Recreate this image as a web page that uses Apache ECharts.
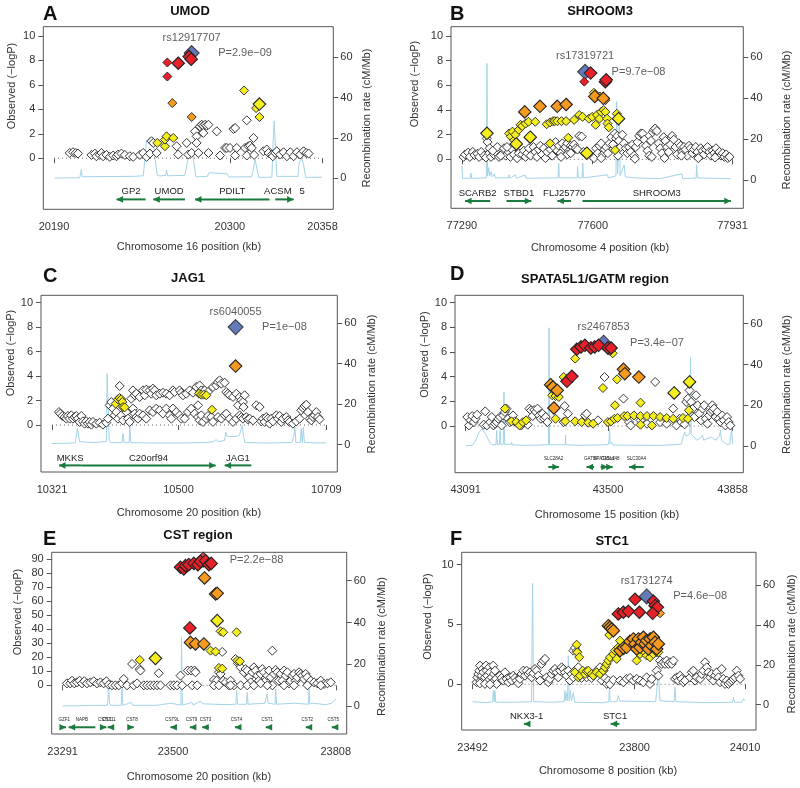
<!DOCTYPE html>
<html><head><meta charset="utf-8">
<script src="https://cdn.jsdelivr.net/npm/echarts@6/dist/echarts.min.js"></script>
<style>html,body{margin:0;padding:0;background:#fff}#c{width:800px;height:788px}</style>
</head><body><div id="c"></div>
<script>
// ---------------- tick labels ----------------
const P_TICKS = [0, 2, 4, 6, 8, 10];
const E_PTICKS = [0, 10, 20, 30, 40, 50, 60, 70, 80, 90];
const F_PTICKS = [0, 5, 10];
const R_TICKS = [0, 20, 40, 60];
const A_xticks = [20190, 20300, 20358];
const B_xticks = [77290, 77600, 77931];
const C_xticks = [10321, 10500, 10709];
const D_xticks = [43091, 43500, 43858];
const E_xticks = [23291, 23500, 23808];
const F_xticks = [23492, 23800, 24010];

// ---------------- Panel A: UMOD ----------------
const A_white = [[20199.8,0.43],[20201.9,0.49],[20203.6,0.43],[20205.0,0.38],[20213.4,0.27],[20215.5,0.38],[20216.5,0.16],[20218.6,0.27],[20219.7,0.43],[20220.7,0.16],[20222.8,0.27],[20224.9,0.11],[20227.0,0.22],[20229.1,0.16],[20230.1,0.30],[20232.2,0.38],[20234.3,0.27],[20237.4,0.16],[20239.5,0.11],[20243.7,0.27],[20245.8,0.43],[20247.9,0.11],[20250.0,0.38],[20251.0,1.39],[20252.1,1.25],[20254.2,0.43],[20266.7,0.98],[20267.7,0.30],[20273.0,1.25],[20274.0,0.30],[20276.1,0.43],[20278.2,2.20],[20279.2,1.79],[20279.2,1.25],[20280.3,0.43],[20281.3,2.61],[20282.4,2.74],[20283.4,2.66],[20283.4,2.07],[20284.5,2.74],[20285.5,2.66],[20286.6,2.74],[20286.6,0.43],[20291.8,2.20],[20293.9,0.22],[20297.0,0.84],[20298.1,0.84],[20300.1,0.84],[20302.2,2.39],[20303.3,2.47],[20303.3,0.22],[20304.3,0.84],[20309.5,0.84],[20310.6,0.22],[20310.6,3.10],[20311.6,0.98],[20312.7,1.03],[20313.7,0.84],[20314.8,1.66],[20315.2,0.27],[20321.0,0.57],[20323.1,0.71],[20324.2,0.43],[20326.3,0.30],[20326.9,0.16],[20328.4,0.43],[20329.4,0.57],[20331.5,0.30],[20333.6,0.49],[20335.7,0.16],[20337.8,0.49],[20339.9,0.16],[20342.0,0.49],[20344.0,0.30],[20346.1,0.57],[20347.8,0.43],[20349.3,0.38]];
const A_yellow = [[20254.6,1.25],[20259.4,0.98],[20259.4,1.52],[20260.4,1.79],[20264.6,1.66],[20308.9,5.54],[20316.4,4.10],[20318.5,3.37]];
const A_yellowBig = [[20318.5,4.43]];
const A_orange = [[20264.0,4.51],[20276.1,3.37]];
const A_orangeBig = [];
const A_red = [[20260.9,7.83],[20260.9,6.68]];
const A_redBig = [[20267.7,7.77],[20274.6,8.32],[20275.8,8.10]];
const A_lead = [[20276.1,8.6]];
const A_rs = 'rs12917707';
const A_p = 'P=2.9e\u221209';
const A_recomb = [[20190.4,0.2],[20206.1,0.3],[20206.7,0.5],[20207.1,4.4],[20207.6,0.8],[20218.6,0.9],[20239.5,1.0],[20245.8,1.3],[20246.9,10],[20247.9,19],[20249.6,20],[20251.0,19.5],[20252.1,17.5],[20253.3,9],[20254.6,1.5],[20256.3,1.2],[20259.8,1.5],[20260.4,4.0],[20261.0,1.3],[20271.9,1.5],[20273.4,8],[20274.6,11.5],[20276.7,11.8],[20277.8,6],[20278.8,0.8],[20285.9,1.0],[20287.0,2.8],[20298.1,2.3],[20299.3,0.7],[20313.7,0.8],[20314.8,5],[20315.8,9.3],[20316.9,5],[20318.1,0.5],[20326.3,0.6],[20326.9,15],[20327.7,28.5],[20328.6,15],[20329.4,1],[20342.6,1],[20343.4,8],[20345.1,9.8],[20346.3,6],[20347.4,0.5],[20357.6,0.6]];
const A_genes = [['GP2',20229.1,20247.3,-1],['UMOD',20252.1,20271.9,-1],['PDILT',20278.2,20324.8,-1],['ACSM   5',20328.4,20339.9,1]];

// ---------------- Panel B: SHROOM3 ----------------
const B_white = [[77294,0.2],[77298,0.4],[77305,0.55],[77309,0.2],[77316,0.6],[77320,0.35],[77327,0.45],[77331,0.2],[77336,0.6],[77343,0.3],[77347,0.15],[77355,0.5],[77359,0.2],[77366,0.4],[77370,0.6],[77374,1.0],[77378,0.2],[77386,0.45],[77390,0.9],[77394,0.3],[77401,0.6],[77405,0.2],[77409,0.8],[77413,0.4],[77417,1.2],[77421,0.1],[77425,0.5],[77349,1.7],[77351,1.4],[77356,0.9],[77363,0.7],[77382,0.3],[77397,1.0],
[77433,0.4],[77437,0.7],[77441,0.2],[77445,0.5],[77449,0.9],[77453,0.3],[77460,1.0],[77464,0.6],[77468,0.2],[77472,0.8],[77476,1.1],[77480,0.4],[77484,0.9],[77488,0.1],[77492,0.6],[77496,1.2],[77500,0.8],[77504,0.3],[77508,1.0],[77512,1.4],[77516,0.7],[77520,1.1],[77524,0.5],[77528,1.3],[77532,0.9],[77536,1.0],[77540,1.3],[77544,0.7],[77548,1.1],[77552,1.0],[77556,1.2],[77560,0.9],[77564,0.8],[77568,1.9],[77574,1.85],[77578,0.6],[77540,0.4],[77525,0.2],[77548,0.5],
[77603,0.1],[77608,0.9],[77612,0.5],[77616,1.1],[77620,1.3],[77624,0.4],[77628,0.8],[77632,1.0],[77636,0.5],[77640,1.3],[77644,1.8],[77648,1.2],[77652,2.1],[77655,1.7],[77658,1.9],[77662,1.5],[77666,1.0],[77670,2.0],[77674,1.3],[77678,0.9],[77682,0.5],[77686,1.0],[77690,0.6],[77694,1.2],[77698,0.3],[77702,1.0],[77706,1.4],[77710,1.9],[77714,2.1],[77718,2.1],[77722,1.6],[77726,1.1],[77730,0.7],[77734,0.3],[77738,1.5],[77742,2.2],[77745,2.4],[77748,2.5],[77752,2.3],[77756,1.3],[77760,0.9],[77764,0.5],[77768,1.8],[77772,1.5],[77776,1.0],[77780,0.6],[77784,1.2],[77788,1.9],[77792,1.6],[77796,1.0],[77800,0.4],[77804,1.3],[77808,1.1],[77812,0.6],[77816,1.0],[77820,0.8],[77824,0.3],[77828,1.1],[77832,0.9],[77836,0.5],[77840,0.8],[77844,1.0],[77848,0.6],[77852,0.2],[77856,0.9],[77860,0.7],[77864,0.4],[77868,0.8],[77872,1.0],[77876,0.6],[77880,0.3],[77884,0.7],[77888,0.5],[77892,0.9],[77896,0.4],[77900,0.6],[77904,0.3],[77908,0.5],[77912,0.2],[77916,0.4],[77920,0.1],[77924,0.2],[77620,0.1],[77660,0.3],[77700,0.05],[77740,0.2],[77770,0.1],[77810,0.3],[77850,0.1],[77890,0.15]];
const B_yellow = [[77402,2.1],[77406,1.85],[77410,2.25],[77414,1.55],[77417,2.0],[77425,2.4],[77429,2.8],[77433,2.7],[77441,2.9],[77448,3.05],[77464,3.05],[77491,2.85],[77499,3.0],[77506,3.1],[77510,3.1],[77516,3.1],[77526,3.1],[77537,3.1],[77499,1.3],[77542,1.75],[77556,3.2],[77568,3.6],[77576,3.45],[77591,3.3],[77599,3.45],[77603,5.4],[77607,2.8],[77610,3.6],[77616,3.3],[77620,3.85],[77626,4.0],[77630,3.85],[77634,3.3],[77635,2.9],[77638,2.6],[77657,3.7],[77653,0.75]];
const B_yellowBig = [[77349.5,2.11],[77419,1.25],[77452,1.8],[77586,0.5],[77661,3.3]];
const B_orange = [[77617,5.1],[77630,4.8]];
const B_orangeBig = [[77439,3.85],[77475,4.3],[77516,4.3],[77537,4.45],[77605,5.1],[77625,4.95]];
const B_red = [[77580,6.3]];
const B_redBig = [[77595,7.0],[77630,6.3],[77632,6.45]];
const B_lead = [[77582,7.1]];
const B_rs = 'rs17319721';
const B_p = 'P=9.7e\u221208';
const B_recomb = [[77290,7],[77292,0.8],[77310,0.8],[77311.6,3.3],[77313,0.8],[77348,1],[77349.5,57],[77351,2],[77354,6],[77356,2],[77359.5,4],[77362,1.5],[77367,3],[77369,1],[77400,1],[77402,2.5],[77404,0.8],[77417,2.5],[77419,0.8],[77440,2.4],[77442,0.8],[77518,1],[77519.4,8.2],[77521,1],[77563,1],[77564.2,6.5],[77566,1],[77575,1],[77576.5,8.2],[77578,1],[77635,2.5],[77637,1],[77655,2],[77656.8,38.3],[77659,3],[77663,28],[77665,2],[77674.6,7.3],[77677,1.5],[77700,1],[77760,0.6],[77811,3],[77813,0.6],[77845,1],[77846.1,7.3],[77848,1],[77927,0.6]];
const B_genes = [['SCARB2',77297.7,77357.2,-1],['STBD1',77395.8,77454.5,1],['FLJ25770',77516.3,77548.7,-1],['SHROOM3',77575.8,77927.1,1]];

// ---------------- Panel C: JAG1 ----------------
const C_white = [[10330.9,1.06],[10332.8,0.93],[10335.6,0.74],[10338.9,0.65],[10341.3,0.52],[10343.6,0.74],[10346.0,0.52],[10348.3,0.79],[10350.7,0.52],[10353.1,0.65],[10355.4,0.74],[10357.8,0.52],[10360.1,0.25],[10362.5,0.74],[10364.8,0.30],[10367.2,0.11],[10369.6,0.30],[10371.9,0.11],[10374.3,0.25],[10376.6,0.03],[10379.0,0.25],[10383.7,0.11],[10388.4,0.19],[10393.1,0.03],[10397.8,0.19],[10400.2,0.52],[10402.6,1.61],[10404.9,1.88],[10407.3,1.34],[10409.6,0.79],[10412.0,1.06],[10414.3,0.52],[10416.7,3.19],[10417.6,2.15],[10419.0,0.79],[10421.4,0.38],[10423.8,1.34],[10426.1,1.06],[10428.5,0.52],[10430.8,0.25],
[10433.2,2.15],[10435.6,2.83],[10437.9,2.43],[10440.3,2.56],[10445.0,2.29],[10449.7,2.83],[10452.1,2.43],[10454.4,2.89],[10459.1,2.83],[10461.5,2.56],[10463.8,2.97],[10466.2,2.83],[10468.5,2.43],[10473.3,2.56],[10478.0,2.64],[10482.7,2.56],[10487.4,2.43],[10492.1,2.83],[10494.5,2.70],[10501.5,2.83],[10503.9,2.64],[10506.3,2.43],[10511.0,2.56],[10515.7,2.83],[10520.4,2.64],[10525.1,3.11],[10529.8,3.24],[10532.2,2.83],[10527.5,1.61],[10534.5,2.64],[10536.9,2.83],[10541.6,2.70],[10548.7,3.11],[10553.4,3.24],[10555.8,3.51],[10558.1,3.65],[10560.5,3.38],[10565.2,3.46],[10567.5,2.70],[10569.9,2.56],[10572.3,2.43],[10577.0,2.29],[10581.7,2.56],[10584.1,1.61],[10586.4,2.29],[10588.8,2.02],[10591.1,1.88],[10593.5,2.43],[10592.0,1.47],
[10435.6,1.34],[10437.9,0.93],[10440.3,0.65],[10442.6,0.52],[10445.0,0.93],[10449.7,0.79],[10454.4,0.52],[10459.1,1.20],[10463.8,1.06],[10468.5,1.34],[10473.3,1.20],[10478.0,0.93],[10482.7,1.34],[10487.4,0.79],[10489.8,0.52],[10492.1,1.34],[10496.8,1.06],[10501.5,0.79],[10503.9,0.52],[10508.6,0.52],[10513.3,1.06],[10518.0,1.34],[10522.8,0.93],[10527.5,0.65],[10529.8,0.38],[10532.2,0.79],[10534.5,0.25],[10539.3,0.52],[10541.6,0.74],[10546.3,0.65],[10548.7,0.25],[10555.8,0.65],[10560.5,0.52],[10565.2,0.79],[10567.5,0.93],[10572.3,0.52],[10577.0,0.25],[10581.7,0.52],[10586.4,0.79],[10588.8,0.65],[10591.1,0.52],[10595.8,0.65],[10598.2,0.46],[10600.5,0.52],[10605.3,0.38],
[10610.0,1.61],[10614.7,1.47],[10617.0,0.30],[10619.4,0.52],[10621.8,0.25],[10624.1,0.65],[10626.5,0.52],[10628.8,0.11],[10631.2,0.52],[10633.5,0.30],[10638.3,0.79],[10640.6,0.52],[10643.0,0.74],[10645.3,0.25],[10647.7,0.52],[10652.4,0.65],[10654.8,0.38],[10657.1,0.25],[10661.8,0.11],[10666.5,0.30],[10671.3,0.52],[10673.6,1.20],[10676.0,1.39],[10678.3,1.55],[10680.7,1.66],[10683.0,1.06],[10685.4,0.52],[10687.8,0.38],[10690.1,0.65],[10692.5,0.79],[10694.8,1.06],[10697.2,0.65],[10699.5,0.46]];
const C_yellow = [[10411.0,1.74],[10414.3,2.10],[10416.7,2.20],[10419.0,2.10],[10420.5,1.88],[10421.4,1.47],[10423.8,1.44],[10528.9,2.56],[10532.2,2.48],[10535.5,2.48],[10539.3,2.43],[10547.3,1.25]];
const C_yellowBig = [];
const C_orange = [];
const C_orangeBig = [[10580.7,4.82]];
const C_red = [];
const C_redBig = [];
const C_lead = [[10580.7,8.0]];
const C_rs = 'rs6040055';
const C_p = 'P=1e\u221208';
const C_recomb = [[10321,0.5],[10330,0.6],[10350,0.8],[10354,1],[10357,7.9],[10360,1.5],[10380,1],[10398,1.5],[10399,35],[10401,35],[10402,2],[10404,1],[10420,1],[10421.5,5.5],[10423,1],[10430,1],[10431,9.5],[10432.5,1],[10460,0.8],[10500,0.8],[10540,1],[10550,1.5],[10553,2.5],[10556,1.5],[10565,2],[10567,6],[10569,4],[10580,4],[10586,4.5],[10590,9.5],[10592,4],[10594,1],[10620,0.8],[10660,1],[10663,4],[10664.5,8.7],[10666,1],[10672,1],[10673.5,8],[10675,1],[10676.5,8.5],[10678,1],[10709,0.8]];
const C_genes = [['MKKS',10330.9,10362.5,-1],['C20orf94',10362.5,10552.5,1],['JAG1',10565.2,10602.9,-1]];

// ---------------- Panel D: SPATA5L1/GATM ----------------
const D_white = [[43095.7,0.73],[43100.4,0.05],[43105.1,0.46],[43109.8,0.81],[43114.5,0.32],[43119.2,0.59],[43123.9,0.92],[43142.6,0.11],[43147.3,1.19],[43152.0,0.05],[43161.4,0.32],[43166.1,0.73],[43170.8,0.05],[43175.5,0.19],[43180.2,0.32],[43184.9,0.59],[43189.6,0.73],[43194.3,0.05],[43199.0,0.86],[43203.7,1.14],[43208.4,1.41],[43213.0,0.59],[43217.7,0.32],[43227.1,0.86],[43231.8,0.38],[43241.2,0.19],[43250.6,0.05],[43260.0,0.32],[43269.4,0.11],[43274.1,1.41],[43278.8,1.27],[43283.5,0.81],[43288.0,1.30],[43292.8,1.14],[43297.5,1.41],[43302.2,0.86],[43306.9,0.59],[43311.6,1.00],[43316.3,0.59],[43321.0,0.73],[43325.7,0.32],[43372.6,0.32],[43375.5,1.62],[43384.8,1.00],[43433.7,0.86],[43438.4,1.00],[43471.2,0.46],[43490.0,3.97],[43544.4,2.22],[43560.4,0.32],[43565.1,0.05],[43593.3,0.46],[43612.0,0.19],[43635.5,3.57],[43649.6,0.32],[43668.4,0.19],[43687.1,1.41],[43696.5,0.05],[43706.0,0.59],[43710.6,0.32],[43720.0,0.14],[43724.7,1.95],[43729.4,2.22],[43734.1,2.89],[43738.8,1.95],[43743.5,1.41],[43748.2,0.73],[43752.9,2.49],[43757.6,1.68],[43762.2,1.00],[43766.9,0.46],[43771.6,1.41],[43776.3,1.68],[43781.0,0.59],[43785.7,0.19],[43790.4,0.86],[43795.1,1.14],[43799.8,1.68],[43799.8,1.27],[43804.5,1.41],[43809.2,0.73],[43813.9,1.14],[43818.6,0.59],[43823.3,0.32],[43828.0,0.86],[43832.7,0.46],[43837.3,0.05],[43842.0,0.73],[43846.7,0.32],[43851.4,0.05]];
const D_yellow = [[43203.7,1.41],[43222.4,0.38],[43236.5,0.32],[43245.9,0.05],[43255.3,0.32],[43264.7,0.46],[43349.2,0.59],[43377.3,0.38],[43405.5,0.38],[43424.3,0.32],[43443.1,0.27],[43457.1,0.19],[43499.4,0.32],[43508.8,0.38],[43518.2,0.59],[43527.5,0.65],[43546.3,0.81],[43555.7,0.81],[43574.5,0.86],[43593.3,0.81],[43612.0,0.81],[43630.8,0.81],[43649.6,0.73],[43668.4,0.65],[43687.1,0.59],[43715.3,0.65],[43593.3,0.11],[43626.1,0.05],[43339.8,2.49],[43349.2,2.43],[43358.6,2.35],[43372.6,3.97],[43405.5,5.46],[43485.3,3.08],[43525.7,3.78],[43520.0,1.68],[43593.3,1.89],[43732.2,1.27],[43729.4,0.59],[43513.5,5.89]];
const D_yellowBig = [[43690.0,2.68],[43734.1,3.57]];
const D_orange = [[43504.1,6.1]];
const D_orangeBig = [[43335.1,3.35],[43341.7,3.16],[43353.9,2.89],[43344.5,1.46],[43544.4,4.59],[43548.2,4.24],[43588.6,3.97]];
const D_red = [];
const D_redBig = [[43382.0,3.62],[43396.1,4.03],[43410.2,6.22],[43422.4,6.41],[43433.7,6.54],[43450.6,6.32],[43461.8,6.41],[43473.1,6.54],[43499.4,6.32],[43508.8,6.32]];
const D_lead = [[43487.2,6.75]];
const D_rs = 'rs2467853';
const D_p = 'P=3.4e\u221207';
const D_recomb = [[43091,0.3],[43110,0.5],[43120,3],[43130,7],[43138,8.6],[43148,6],[43160,2],[43166,0.8],[43178,0.8],[43180,7.8],[43182,0.8],[43188,0.8],[43190,7.8],[43192,1],[43199,1],[43201,26.6],[43203,1],[43222,1],[43223,2],[43225,0.8],[43250,0.5],[43300,0.6],[43329,0.8],[43330.5,58],[43332,0.8],[43377,0.8],[43378,5.4],[43379,0.8],[43420,0.5],[43500,0.8],[43503,3],[43504.5,8.6],[43506,1],[43510,2],[43515,0.6],[43650,0.5],[43710,1],[43715,4],[43720,7],[43725,5],[43735,6],[43737,43.7],[43739,6],[43745,5],[43755,3],[43765,4],[43771,5.4],[43775,3],[43795,4.5],[43810,3],[43820,5],[43823,7.8],[43826,3],[43840,1],[43850,1],[43855,8.6],[43858,1]];
const D_genes = [['SLC28A2',43328.5,43358.6,1],['GATM',43438.4,43459.9,-1],['SPATA5L1',43478.7,43499.4,1],['C15orf48',43499.4,43513.5,1],['SLC30A4',43560.4,43602.6,-1]];

// ---------------- Panel E: CST region ----------------
const E_white = [[23299.2,1.4],[23305.5,1.4],[23308.7,3.3],[23313.1,1.4],[23318.2,2.1],[23323.2,3.3],[23327.7,1.4],[23332.1,2.9],[23337.1,1.4],[23343.5,2.1],[23349.8,2.9],[23356.1,1.4],[23362.4,2.1],[23368.7,1.4],[23373.8,2.9],[23378.2,0.5],[23384.5,0],[23390.9,0],[23397.2,0],[23403.5,1.4],[23406.7,4.5],[23413.0,0],[23422.5,15.2],[23425.6,0],[23432.0,1.4],[23437.0,11.6],[23438.3,10.5],[23444.6,0],[23450.9,0],[23457.2,0],[23463.5,0],[23469.9,0],[23473.0,8.6],[23476.2,0],[23495.1,0],[23501.5,0],[23507.8,0],[23514.1,6.9],[23517.3,0],[23528.0,10.5],[23534.3,10.5],[23536.2,0],[23540.6,10.5],[23542.5,9.3],[23545.7,0],
[23577.3,3.8],[23582.4,3.3],[23586.8,9.3],[23590.0,8.1],[23593.1,23.8],[23595.0,3.3],[23599.4,2.1],[23605.7,0],[23608.9,3.3],[23615.2,0],[23618.4,18.8],[23622.8,15.7],[23627.9,12.8],[23634.2,9.3],[23637.3,11.6],[23640.5,10.5],[23643.7,5.7],[23646.8,2.1],[23650.0,9.3],[23653.1,12.8],[23656.3,10.5],[23659.5,6.9],[23662.6,3.3],[23665.8,8.1],[23668.9,11.6],[23672.1,9.3],[23675.3,3.3],[23678.4,6.9],[23681.6,10.5],[23684.7,5.7],[23687.9,0],[23691.1,8.1],[23694.2,10.9],[23697.4,9.3],[23700.5,3.3],[23703.7,8.1],[23706.9,3.3],[23710.0,10.5],[23713.2,6.9],[23716.3,9.3],[23719.5,1.4],[23722.7,3.3],[23725.8,6.9],[23729.0,8.1],[23732.1,3.3],[23735.3,5.7],[23738.5,9.3],[23741.6,8.1],[23744.8,6.9],[23747.9,4.5],[23751.1,8.1],[23754.3,5.7],[23760.6,3.3],[23766.9,2.1],[23773.2,1.4],[23779.5,3.3],[23785.9,1.0],[23792.2,1.4],[23798.5,2.1],[23687.9,24.7],[23608.9,0],[23627.9,0],[23640.5,0],[23653.1,0],[23665.8,1.4],[23678.4,0],[23710.0,0],[23729.0,0],[23754.3,0],[23779.5,0],[23577.3,0],[23586.8,0]];
const E_yellow = [[23437.0,18.1],[23571.0,24.7],[23580.5,24.0],[23586.8,12.4],[23593.1,11.9],[23590.0,38.5],[23595.0,37.8],[23620.3,37.8],[23621.5,17.6],[23626.6,17.1]];
const E_yellowBig = [[23466.7,19.2],[23583.6,46.1]];
const E_orange = [];
const E_orangeBig = [[23533.0,30.6],[23542.5,29.5],[23558.3,29.5],[23559.6,76.5],[23580.5,65.1],[23583.6,65.6]];
const E_red = [];
const E_redBig = [[23531.8,40.9],[23514.1,84.1],[23520.4,82.9],[23523.6,85.3],[23529.9,86.0],[23539.4,86.9],[23547.0,86.0],[23552.0,88.4],[23561.5,88.8],[23567.8,86.0],[23572.2,86.9]];
const E_lead = [[23557.0,89.5]];
const E_rs = '';
const E_p = 'P=2.2e\u221288';
const E_recomb = [[23291,0.2],[23330,0.3],[23348,0.5],[23350,1.1],[23352,0.4],[23376,0.5],[23378,9],[23380,1.5],[23382,0.5],[23402,0.5],[23403.5,8.7],[23405,0.5],[23421,1.9],[23424,0.5],[23470,0.5],[23495,1.5],[23497,0.6],[23515,0.6],[23516,33],[23517.5,0.6],[23536,1.8],[23538,0.6],[23552,2.5],[23556,1.2],[23600,0.8],[23619,1],[23620.3,7.5],[23622,1],[23639,1],[23640.5,6.7],[23642,1],[23674,1.5],[23676,4],[23678,6],[23680,1.5],[23693,1],[23694.2,8.3],[23696,1],[23729,1.5],[23731,0.8],[23756,1],[23757.4,8.3],[23759,1],[23763,1.5],[23790,0.8],[23800,1.5],[23808,3.5]];
const E_genes = [['GZF1',23291.0,23297.3,1],['NAPB',23302.4,23352.9,-1],['CSTL1',23368.7,23373.8,1],['CST11',23376.3,23381.4,-1],['CST8',23419.3,23425.6,1],['CST9L',23495.1,23501.5,-1],['CST9',23531.8,23538.1,-1],['CST3',23555.2,23567.8,-1],['CST4',23617.1,23622.8,-1],['CST1',23675.3,23681.6,-1],['CST2',23751.1,23757.4,-1],['CST5',23800.5,23806.0,-1]];

// ---------------- Panel F: STC1 ----------------
const F_white = [[23499.6,0.17],[23500.9,0.58],[23502.8,0.86],[23504.7,1.14],[23506.0,1.56],[23507.2,0.31],[23509.1,0.72],[23511.0,1.28],[23512.3,1.0],[23513.6,0.31],[23515.5,0.58],[23517.4,1.56],[23518.6,1.14],[23519.9,0.72],[23521.8,0.31],[23523.7,1.42],[23525.0,1.0],[23528.1,0.58],[23530.0,0.17],[23531.3,1.56],[23532.6,0.86],[23534.5,1.14],[23536.4,0.45],[23537.6,0.03],[23506.0,0.08],[23515.5,0.03],[23525.0,0],
[23544.0,0.72],[23547.2,0.53],[23550.3,0.31],[23553.5,1.0],[23556.7,0.45],[23559.8,0.17],[23563.0,0.58],[23566.2,0.31],[23569.3,0.72],[23572.5,0.53],[23575.7,0.31],[23578.9,0.08],[23582.0,0.45],[23585.2,0.86],[23588.4,1.14],[23591.5,0.72],[23594.7,1.14],[23597.9,0.86],[23601.0,1.0],[23604.2,0.58],[23607.4,0.92],[23610.6,1.28],[23613.7,1.14],[23616.9,0.72],[23620.1,0.31],[23623.2,1.7],[23626.4,1.98],[23629.6,2.12],[23632.7,0.58],[23635.9,0.17],[23639.1,0.45],[23642.3,0.86],[23645.4,1.14],[23648.6,1.28],[23651.8,1.0],[23654.9,0.58],[23658.1,1.14],[23661.3,1.42],[23664.4,1.28],[23667.6,1.0],[23670.8,0.72],[23674.0,1.14],[23677.1,0.31],[23680.3,0.86],[23683.5,0.58],[23686.6,1.14],[23683.5,2.81],[23686.6,3.04],[23689.8,2.76],
[23693.0,1.42],[23699.3,0.53],[23708.8,0.58],[23718.3,0.53],[23727.8,1.14],[23734.2,1.42],[23737.4,0.31],[23740.5,1.14],[23743.7,0.53],[23746.9,0.03],[23750.0,0.31],[23753.2,0],[23759.5,0.36],[23772.2,0.31],[23778.6,0.17],[23784.9,0.45],[23791.2,0.53],[23797.6,0.31],[23803.9,0.45],[23810.3,0.31],[23816.6,0.17],[23822.9,0.58],[23829.3,0.03],[23832.5,0.45],[23842.0,1.14],[23845.1,0.72],[23848.3,1.98],[23851.5,1.7],[23854.6,1.84],[23857.8,1.7],[23861.0,1.98],[23864.2,1.7],[23867.3,1.84],[23870.5,1.7],[23873.7,1.98],[23876.8,0.45],[23880.0,0.58],[23883.2,0.31],[23886.3,0.72],[23889.5,0.45],[23892.7,0.17],[23895.9,0.31],[23905.4,0.58],[23908.5,1.0],[23911.7,1.14],[23914.9,0.31],[23918.0,0.58],[23924.4,0.45],[23927.6,0.86],[23930.7,1.14],[23933.9,1.84],[23937.1,1.42],[23940.2,1.0],[23943.4,0.58],[23946.6,0.86],[23949.7,0.31],[23952.9,0.72],[23956.1,1.0],[23959.3,0.58],[23962.4,0.17],[23965.6,1.28],[23968.8,0.45],[23971.9,0.03],[23975.1,0.31],[23978.3,0.03],[23981.4,0.17],[23984.6,0.31],[23987.8,0.45],[23991.0,0.58],[23994.1,1.14],[23997.3,0.72],[24000.5,0.45]];
const F_yellow = [[23689.8,3.31],[23691.1,2.67],[23694.9,2.26],[23686.6,1.0],[23693.0,0.58],[23696.1,0.72],[23701.2,1.14],[23705.7,0.86],[23708.8,1.09],[23712.0,1.14],[23718.3,0.86],[23721.5,0.72],[23727.8,1.0],[23734.2,0.86],[23740.5,1.14],[23743.7,1.42],[23746.9,1.7],[23750.0,1.98],[23753.2,2.26],[23751.9,4.12],[23759.5,2.53],[23762.7,2.81],[23765.9,2.12],[23769.0,3.09],[23772.2,3.65],[23778.6,2.81],[23784.9,3.23],[23791.2,3.37],[23797.6,3.09],[23803.9,1.98],[23810.3,2.53],[23816.6,2.81],[23822.9,2.4],[23829.3,2.26],[23835.6,2.53],[23842.0,2.67],[23845.1,2.67]];
const F_yellowBig = [];
const F_orange = [[23848.3,5.93]];
const F_orangeBig = [[23750.0,4.9],[23753.2,4.76],[23756.4,4.62],[23759.5,4.48],[23772.2,2.81],[23778.6,3.04],[23784.9,3.09],[23791.2,3.59],[23797.6,3.79],[23800.8,3.37],[23803.9,2.95],[23807.1,3.79],[23810.3,3.09],[23813.4,3.51],[23816.6,3.93],[23819.8,3.37],[23822.9,3.65],[23826.1,2.95],[23829.3,3.79],[23832.5,3.23],[23835.6,3.93],[23838.8,3.51],[23842.0,2.95],[23845.1,3.37]];
const F_red = [];
const F_redBig = [[23769.0,5.88],[23778.6,6.02],[23788.1,6.1],[23800.8,7.1],[23809.0,6.02],[23835.6,6.94],[23838.8,6.57],[23843.2,6.43],[23834.3,5.93]];
const F_lead = [[23822.9,7.34]];
const F_rs = 'rs1731274';
const F_p = 'P=4.6e\u221208';
const F_recomb = [[23492,1.5],[23520,1],[23530,1.5],[23531.3,7],[23533,1.5],[23534.5,7],[23536,1.2],[23570,1.2],[23604,1.5],[23606,60.8],[23608,1.5],[23640,1.2],[23666,1.5],[23667.6,7],[23669,2],[23671,6],[23672.5,2],[23674,24.6],[23675.5,2],[23678,7],[23680,2],[23683.5,6],[23686,1.2],[23740,1],[23751,1.5],[23752,8.7],[23753.5,1.5],[23766,1.5],[23769,4.5],[23772,1.8],[23840,1.5],[23842,7],[23845.1,17],[23848,2],[23875,1.5],[23876.8,8.7],[23878.5,1.5],[23940,1],[23986,1.2],[23987.8,3.7],[23990,1.2],[24004,1.2],[24007,3],[24010,2]];
const F_genes = [['NKX3-1',23589.6,23599.8,-1],['STC1',23754.5,23771.0,-1]];

// ---------------- layout / styling ----------------
const FONT = '"Liberation Sans", Arial, Helvetica, sans-serif';
const COL = {white:'#ffffff', yellow:'#f4ee1e', orange:'#f59a1e', red:'#e8202a', blue:'#3d58a8', recomb:'#a3d4e8', gene:'#1b7a3d', edge:'#222222', text:'#222222', axis:'#555555'};

const panels = [
  {L:'A', title:'UMOD', g:[43.3,26.7,290,182.6], xt:A_xticks, pt:P_TICKS, yl:[-4.18,10.76], rl:[-15.3,75.1], rec:A_recomb, genes:A_genes, gy:[-2.74,-3.37], gf:9.5,
   W:A_white, Y:A_yellow, YB:A_yellowBig, O:A_orange, OB:A_orangeBig, R:A_red, RB:A_redBig, lead:A_lead, leadCol:COL.blue, rs:A_rs, p:A_p, chr:16,
   letter:[43,14], tpos:[190,11], lt:[12,86], rt:[367,118], xtp:[189,247]},
  {L:'B', title:'SHROOM3', g:[451,26.7,292.3,181.6], xt:B_xticks, pt:P_TICKS, yl:[-3.97,10.76], rl:[-13.9,75.0], rec:B_recomb, genes:B_genes, gy:[-2.76,-3.38], gf:9.5,
   W:B_white, Y:B_yellow, YB:B_yellowBig, O:B_orange, OB:B_orangeBig, R:B_red, RB:B_redBig, lead:B_lead, leadCol:COL.blue, rs:B_rs, p:B_p, chr:4,
   letter:[450,14], tpos:[600,11], lt:[415,84], rt:[787,120], xtp:[600,248]},
  {L:'C', title:'JAG1', g:[41,295.3,296.3,176.7], xt:C_xticks, pt:P_TICKS, yl:[-3.84,10.6], rl:[-13.5,73.65], rec:C_recomb, genes:C_genes, gy:[-2.70,-3.30], gf:9.5,
   W:C_white, Y:C_yellow, YB:C_yellowBig, O:C_orange, OB:C_orangeBig, R:C_red, RB:C_redBig, lead:C_lead, leadCol:COL.blue, rs:C_rs, p:C_p, chr:20,
   letter:[43,276], tpos:[188,278], lt:[11,353], rt:[372,384], xtp:[189,513]},
  {L:'D', title:'SPATA5L1/GATM region', g:[455,295.3,288.3,177.4], xt:D_xticks, pt:P_TICKS, yl:[-3.78,10.59], rl:[-12.9,73.9], rec:D_recomb, genes:D_genes, gy:[-2.65,-3.32], gf:4.5,
   W:D_white, Y:D_yellow, YB:D_yellowBig, O:D_orange, OB:D_orangeBig, R:D_red, RB:D_redBig, lead:D_lead, leadCol:COL.blue, rs:D_rs, p:D_p, chr:15,
   letter:[450,274], tpos:[595,279], lt:[425,354.5], rt:[787,384.5], xtp:[607,515]},
  {L:'E', title:'CST region', g:[51.7,552.3,295,181.7], xt:E_xticks, pt:E_PTICKS, yl:[-34.7,94.8], rl:[-13.2,73.5], rec:E_recomb, genes:E_genes, gy:[-24.7,-29.9], gf:4.5,
   W:E_white, Y:E_yellow, YB:E_yellowBig, O:E_orange, OB:E_orangeBig, R:E_red, RB:E_redBig, lead:E_lead, leadCol:COL.red, rs:E_rs, p:E_p, chr:20,
   letter:[43,539], tpos:[198,535], lt:[18,612], rt:[382,646.5], xtp:[199,777]},
  {L:'F', title:'STC1', g:[461.7,552.3,294.3,177.7], xt:F_xticks, pt:F_PTICKS, yl:[-3.82,11.03], rl:[-12.7,76.4], rec:F_recomb, genes:F_genes, gy:[-2.70,-3.31], gf:9.5,
   W:F_white, Y:F_yellow, YB:F_yellowBig, O:F_orange, OB:F_orangeBig, R:F_red, RB:F_redBig, lead:F_lead, leadCol:COL.blue, rs:F_rs, p:F_p, chr:8,
   letter:[450,539], tpos:[612,541], lt:[428,616.5], rt:[792,644], xtp:[608,771]}
];

const SMALL = 9, BIG = 12.5, LEAD = 15;
const grids = [], xAxes = [], yAxes = [], series = [], graphics = [];

function geneRender(genes, arrowY, labelY, fs) {
  return function (params, api) {
    const g = genes[params.dataIndex];
    const p1 = api.coord([g[1], arrowY]);
    const p2 = api.coord([g[2], arrowY]);
    const lab = api.coord([(g[1] + g[2]) / 2, labelY]);
    const dir = g[3] > 0 ? 1 : -1;
    const tip = dir > 0 ? p2[0] : p1[0];
    const hl = 6.5, hw = 3.3;
    return {type:'group', children:[
      {type:'line', shape:{x1:p1[0], y1:p1[1], x2:p2[0], y2:p2[1]}, style:{stroke:COL.gene, lineWidth:2}},
      {type:'polygon', shape:{points:[[tip, p1[1]], [tip - dir*hl, p1[1]-hw], [tip - dir*hl, p1[1]+hw]]}, style:{fill:COL.gene}},
      {type:'text', x:lab[0], y:lab[1], style:{text:g[0], align:'center', verticalAlign:'middle', fontSize:fs, fontFamily:FONT, fill:COL.text}}
    ]};
  };
}

function scat(i, data, color, size, bw) {
  return {type:'scatter', xAxisIndex:i, yAxisIndex:2*i, data:data, symbol:'diamond', symbolSize:size,
    itemStyle:{color:color, borderColor:COL.edge, borderWidth:bw, opacity:1}, z:3, silent:true};
}

panels.forEach((p, i) => {
  grids.push({left:p.g[0], top:p.g[1], width:p.g[2], height:p.g[3], show:true, borderColor:COL.axis, borderWidth:1, backgroundColor:'transparent', containLabel:false, outerBoundsMode:'none'});
  const xt = p.xt, rng = xt[xt.length-1] - xt[0];
  xAxes.push({gridIndex:i, type:'value', min:xt[0] - 0.04*rng, max:xt[xt.length-1] + 0.04*rng,
    axisLine:{show:false}, splitLine:{show:false},
    axisTick:{show:true, customValues:xt, length:5, lineStyle:{color:COL.axis}},
    axisLabel:{customValues:xt, margin:12, fontSize:11, color:'#333', fontFamily:FONT, formatter:v => String(v)}});
  yAxes.push({gridIndex:i, type:'value', position:'left', min:p.yl[0], max:p.yl[1],
    axisLine:{show:false}, splitLine:{show:false},
    axisTick:{show:true, customValues:p.pt, length:5, lineStyle:{color:COL.axis}},
    axisLabel:{customValues:p.pt, margin:8, fontSize:11, color:'#333', fontFamily:FONT, formatter:v => String(v)}});
  yAxes.push({gridIndex:i, type:'value', position:'right', min:p.rl[0], max:p.rl[1],
    axisLine:{show:false}, splitLine:{show:false},
    axisTick:{show:true, customValues:R_TICKS, length:5, lineStyle:{color:COL.axis}},
    axisLabel:{customValues:R_TICKS, margin:7, fontSize:11, color:'#333', fontFamily:FONT, formatter:v => String(v)}});

  // recombination rate
  series.push({type:'line', xAxisIndex:i, yAxisIndex:2*i+1, data:p.rec, showSymbol:false, symbol:'none',
    lineStyle:{color:COL.recomb, width:1}, z:1, silent:true});
  // zero reference line
  series.push({type:'line', xAxisIndex:i, yAxisIndex:2*i, data:[[xt[0],0],[xt[xt.length-1],0]], symbol:'none',
    lineStyle:{color:'#666', width:1, type:[1,3]}, z:2, silent:true});
  // genes
  series.push({type:'custom', xAxisIndex:i, yAxisIndex:2*i, data:p.genes.map(g => [g[1], g[2]]),
    encode:{x:[0,1]}, renderItem:geneRender(p.genes, p.gy[1], p.gy[0], p.gf), z:2, silent:true, clip:false});
  // points
  series.push(scat(i, p.W, COL.white, SMALL, 0.9));
  series.push(scat(i, p.Y, COL.yellow, SMALL, 0.9));
  series.push(scat(i, p.YB, COL.yellow, BIG, 1.1));
  series.push(scat(i, p.O, COL.orange, SMALL, 0.9));
  series.push(scat(i, p.OB, COL.orange, BIG, 1.1));
  // lead SNP with rs label
  series.push({type:'scatter', xAxisIndex:i, yAxisIndex:2*i, data:p.lead, symbol:'diamond', symbolSize:LEAD,
    itemStyle:{color:p.leadCol, borderColor:COL.edge, borderWidth:1.1}, z:3, silent:true,
    label:{show:p.rs !== '', position:'top', distance:2, formatter:p.rs, fontSize:11, color:'#333', fontFamily:FONT}});
  series.push(scat(i, p.R, COL.red, SMALL, 0.9));
  series.push(scat(i, p.RB, COL.red, BIG, 1.1));
  // P value label anchored at lead SNP
  series.push({type:'scatter', xAxisIndex:i, yAxisIndex:2*i, data:p.lead, symbol:'rect', symbolSize:LEAD,
    itemStyle:{color:'rgba(0,0,0,0)', borderWidth:0}, z:4, silent:true,
    label:{show:true, position:'right', distance:19, formatter:p.p, fontSize:11, color:'#333', fontFamily:FONT}});

  // texts
  graphics.push({type:'text', x:p.letter[0], y:p.letter[1], style:{text:p.L, fontSize:20, fontWeight:'bold', fontFamily:FONT, fill:'#111', align:'left', verticalAlign:'middle'}});
  graphics.push({type:'text', x:p.tpos[0], y:p.tpos[1], style:{text:p.title, fontSize:13, fontWeight:'bold', fontFamily:FONT, fill:'#111', align:'center', verticalAlign:'middle'}});
  graphics.push({type:'text', x:p.lt[0], y:p.lt[1], rotation:Math.PI/2, style:{text:'Observed (\u2212logP)', fontSize:11, fontFamily:FONT, fill:'#333', align:'center', verticalAlign:'middle'}});
  graphics.push({type:'text', x:p.rt[0], y:p.rt[1], rotation:Math.PI/2, style:{text:'Recombination rate (cM/Mb)', fontSize:11, fontFamily:FONT, fill:'#333', align:'center', verticalAlign:'middle'}});
  graphics.push({type:'text', x:p.xtp[0], y:p.xtp[1], style:{text:'Chromosome ' + p.chr + ' position (kb)', fontSize:11, fontFamily:FONT, fill:'#333', align:'center', verticalAlign:'middle'}});
});

const chart = echarts.init(document.getElementById('c'), null, {renderer:'canvas'});
chart.setOption({
  animation:false,
  backgroundColor:'#ffffff',
  grid:grids, xAxis:xAxes, yAxis:yAxes, series:series,
  graphic:{elements:graphics}
});
</script>
</body></html>
